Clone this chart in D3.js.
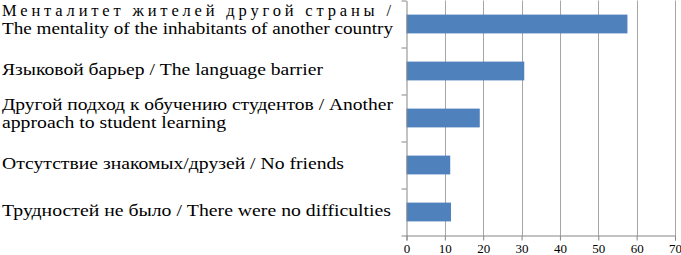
<!DOCTYPE html>
<html><head><meta charset="utf-8">
<script src="https://cdn.jsdelivr.net/npm/d3@7"></script>
<style>body{margin:0;background:#fff}svg{display:block}svg text{font-family:"Liberation Serif","Times New Roman",serif !important}</style>
</head><body>
<script>
const categories = [
  ["Менталитет жителей другой страны /", "The mentality of the inhabitants of another country"],
  ["Языковой барьер / The language barrier"],
  ["Другой подход к обучению студентов / Another", "approach to student learning"],
  ["Отсутствие знакомых/друзей / No friends"],
  ["Трудностей не было / There were no difficulties"]
];
const values = [57.6, 30.7, 19.1, 11.4, 11.6];
const xTicks = [0, 10, 20, 30, 40, 50, 60, 70];

(function () {
// layout: rendered width of each label line (px), matching the reference typesetting
const lineWidths = [[389, 391], [321], [391, 224], [342], [389]];
const W = 681, H = 255;
const svg = d3.select("body").append("svg").attr("width", W).attr("height", H);
const mL = 406.5, mR = 675, mT = 0.5, mB = 235.5;
const x = d3.scaleLinear().domain([0, 70]).range([mL, mR]);
const y = d3.scaleBand().domain(d3.range(categories.length)).range([mT, mB]).paddingInner(0.6).paddingOuter(0.3);
const yb = d3.scaleBand().domain(d3.range(categories.length)).range([mT, mB]);

// gridlines
svg.append("g").selectAll("line").data(xTicks.slice(1)).join("line")
  .attr("x1", d => Math.round(x(d)) + 0.5).attr("x2", d => Math.round(x(d)) + 0.5)
  .attr("y1", mT).attr("y2", mB).attr("stroke", "#a6a6a6").attr("stroke-width", 1);

// bars
svg.append("g").selectAll("rect").data(values).join("rect")
  .attr("x", x(0)).attr("y", (d, i) => y(i)).attr("width", d => x(d) - x(0)).attr("height", y.bandwidth())
  .attr("fill", "#4f81bd");

// x axis
const xa = svg.append("g").attr("transform", `translate(0,${mB})`)
  .call(d3.axisBottom(x).tickValues(xTicks).tickSize(5).tickPadding(3));
xa.select(".domain").attr("stroke", "#868686");
xa.selectAll(".tick line").attr("stroke", "#868686");
xa.selectAll(".tick text").attr("font-size", 13).attr("fill", "#000");

// y axis
const ya = svg.append("g").attr("transform", `translate(${mL},0)`)
  .call(d3.axisLeft(yb).tickValues([]).tickSize(0));
ya.select(".domain").attr("stroke", "#868686");
svg.append("g").selectAll("line").data(d3.range(categories.length + 1)).join("line")
  .attr("x1", mL - 5).attr("x2", mL)
  .attr("y1", d => Math.round(d * yb.step() + mT)).attr("y2", d => Math.round(d * yb.step() + mT))
  .attr("stroke", "#868686");

// labels
const lh = 18.3;
const lg = svg.append("g");
categories.forEach((lines, i) => {
  const cy = yb(i) + yb.bandwidth() / 2;
  const y0 = lines.length > 1 ? cy - 8.5 : cy + 3.5;
  lines.forEach((t, j) => {
    const justified = lines.length > 1 && j === 0 && i === 0;
    lg.append("text").attr("x", 2).attr("y", y0 + j * lh)
      .attr("font-size", 16.5).attr("fill", "#000")
      .attr("textLength", lineWidths[i][j])
      .attr("lengthAdjust", justified ? "spacing" : "spacingAndGlyphs")
      .text(t);
  });
});
})();
</script>
</body></html>
